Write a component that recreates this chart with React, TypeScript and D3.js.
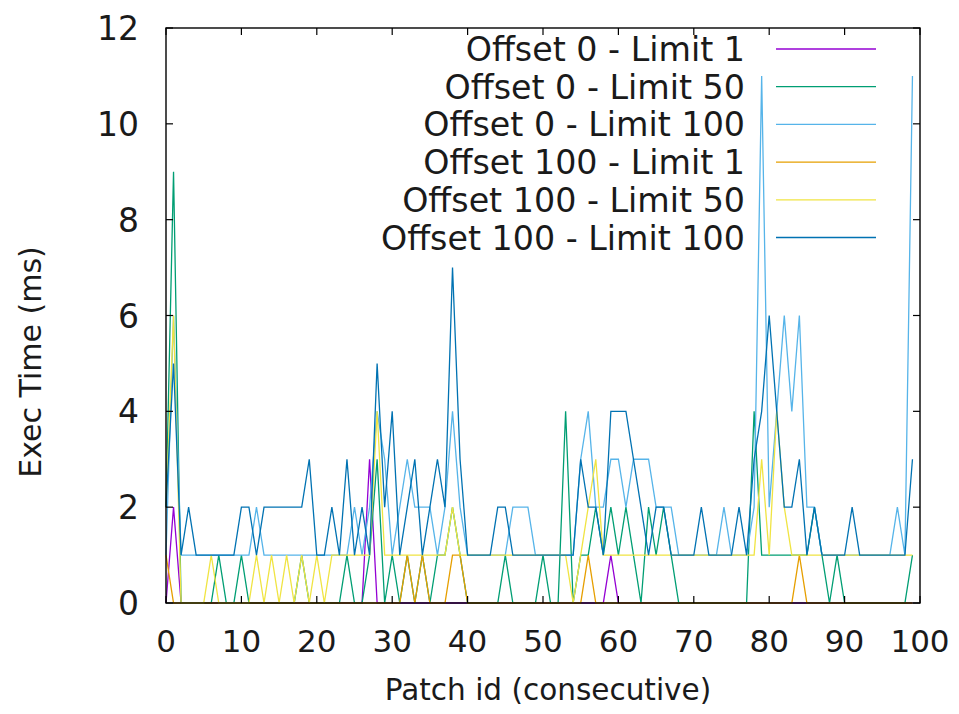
import React from 'react';
import * as d3 from 'd3';

// patch ids 0..99 (consecutive)
const patchIds = d3.range(0, 100);

const seriesNames = [
  'Offset 0 - Limit 1',
  'Offset 0 - Limit 50',
  'Offset 0 - Limit 100',
  'Offset 100 - Limit 1',
  'Offset 100 - Limit 50',
  'Offset 100 - Limit 100',
];

// gnuplot default line colours
const seriesColors = ['#9400d3', '#009e73', '#56b4e9', '#e69f00', '#f0e442', '#0072b2'];

const off0lim1 = [
  0, 2, 0, 0, 0, 0, 0, 0, 0, 0,
  0, 0, 0, 0, 0, 0, 0, 0, 0, 0,
  0, 0, 0, 0, 0, 0, 0, 3, 0, 0,
  0, 0, 0, 0, 0, 0, 0, 0, 0, 0,
  0, 0, 0, 0, 0, 0, 0, 0, 0, 0,
  0, 0, 0, 0, 0, 0, 0, 0, 0, 1,
  0, 0, 0, 0, 0, 0, 0, 0, 0, 0,
  0, 0, 0, 0, 0, 0, 0, 0, 0, 0,
  0, 0, 0, 0, 0, 0, 0, 0, 0, 0,
  0, 0, 0, 0, 0, 0, 0, 0, 0, 0,
];

const off0lim50 = [
  2, 9, 0, 0, 0, 0, 0, 1, 0, 0,
  1, 0, 0, 0, 0, 0, 0, 0, 1, 0,
  0, 0, 0, 0, 1, 0, 0, 1, 3, 0,
  1, 0, 1, 0, 1, 0, 1, 1, 2, 1,
  0, 0, 0, 0, 0, 1, 0, 0, 0, 0,
  1, 0, 0, 4, 0, 1, 1, 2, 1, 2,
  1, 2, 1, 0, 2, 1, 2, 1, 0, 0,
  0, 0, 0, 0, 0, 0, 0, 0, 4, 1,
  1, 1, 1, 1, 1, 1, 2, 1, 0, 1,
  0, 0, 0, 0, 0, 0, 0, 0, 0, 1,
];

const off0lim100 = [
  1, 6, 1, 1, 1, 1, 1, 1, 1, 1,
  1, 1, 2, 1, 1, 1, 1, 1, 1, 1,
  1, 1, 1, 1, 1, 2, 1, 2, 4, 3,
  1, 2, 3, 2, 2, 2, 1, 2, 4, 2,
  1, 1, 1, 1, 1, 1, 2, 2, 2, 1,
  1, 1, 1, 1, 1, 3, 4, 2, 2, 3,
  3, 2, 3, 3, 3, 2, 2, 2, 1, 1,
  1, 1, 1, 1, 2, 1, 1, 1, 2, 11,
  2, 4, 6, 4, 6, 2, 2, 1, 1, 1,
  1, 1, 1, 1, 1, 1, 1, 2, 1, 11,
];

const off100lim1 = [
  1, 0, 0, 0, 0, 0, 0, 0, 0, 0,
  0, 0, 0, 0, 0, 0, 0, 0, 0, 0,
  0, 0, 0, 0, 0, 0, 0, 0, 0, 0,
  0, 0, 1, 0, 1, 0, 0, 0, 1, 1,
  0, 0, 0, 0, 0, 0, 0, 0, 0, 0,
  0, 0, 0, 0, 0, 0, 1, 0, 0, 0,
  0, 0, 0, 0, 0, 0, 0, 0, 0, 0,
  0, 0, 0, 0, 0, 0, 0, 0, 0, 0,
  0, 0, 0, 0, 1, 0, 0, 0, 0, 0,
  0, 0, 0, 0, 0, 0, 0, 0, 0, 0,
];

const off100lim50 = [
  2, 6, 0, 0, 0, 0, 1, 0, 0, 0,
  0, 0, 1, 0, 1, 0, 1, 0, 1, 0,
  1, 0, 1, 1, 1, 1, 1, 1, 4, 1,
  1, 1, 1, 1, 1, 1, 1, 1, 2, 1,
  1, 1, 1, 1, 1, 1, 1, 1, 1, 1,
  1, 1, 1, 1, 0, 1, 2, 3, 1, 1,
  1, 1, 1, 1, 1, 1, 1, 1, 1, 1,
  1, 1, 1, 1, 1, 1, 1, 1, 1, 3,
  1, 4, 2, 1, 1, 1, 1, 1, 1, 1,
  1, 1, 1, 1, 1, 1, 1, 1, 1, 1,
];

const off100lim100 = [
  2, 5, 1, 2, 1, 1, 1, 1, 1, 1,
  2, 2, 1, 2, 2, 2, 2, 2, 2, 3,
  1, 1, 2, 1, 3, 1, 2, 1, 5, 2,
  4, 1, 2, 3, 1, 2, 3, 2, 7, 3,
  1, 1, 1, 1, 2, 2, 1, 1, 1, 1,
  1, 1, 1, 1, 1, 3, 2, 2, 1, 4,
  4, 4, 3, 2, 1, 2, 2, 1, 1, 1,
  1, 2, 1, 1, 1, 1, 2, 1, 3, 4,
  6, 4, 2, 2, 3, 1, 2, 1, 1, 1,
  1, 2, 1, 1, 1, 1, 1, 1, 1, 3,
];

const allSeries = [off0lim1, off0lim50, off0lim100, off100lim1, off100lim50, off100lim100];

const xTicks = [0, 10, 20, 30, 40, 50, 60, 70, 80, 90, 100];
const yTicks = [0, 2, 4, 6, 8, 10, 12];

const App = () => {
  const width = 959;
  const height = 714;
  const margin = { top: 28, right: 39, bottom: 111, left: 166 };
  const font = '"DejaVu Sans", Verdana, sans-serif';
  const textColor = '#1a1a1a';

  const x = d3.scaleLinear().domain([0, 100]).range([margin.left, width - margin.right]);
  const y = d3.scaleLinear().domain([0, 12]).range([height - margin.bottom, margin.top]);

  const line = d3.line<number>()
    .x((d, i) => x(patchIds[i]))
    .y((d) => y(d));

  const tickLen = 7;
  const x0 = x(0), x1 = x(100), y0 = y(0), y1 = y(12);

  // legend placement
  const legendTextX = 745;
  const legendLine = [776, 876];
  const legendTop = 49;
  const legendStep = 37.7;

  return (
    <svg
      width={width}
      height={height}
      style={{ position: 'absolute', left: 0, top: 0, background: '#fff' }}
      fontFamily={font}
    >
      <rect width={width} height={height} fill="#fff" />

      {/* series lines */}
      <g fill="none" strokeWidth={1.3} strokeLinejoin="miter">
        {allSeries.map((vals, k) => (
          <path key={k} d={line(vals) || ''} stroke={seriesColors[k]} />
        ))}
      </g>

      {/* ticks, mirrored like gnuplot */}
      <g stroke="#000" strokeWidth={1.2}>
        {xTicks.map((t) => (
          <g key={'xt' + t}>
            <line x1={x(t)} x2={x(t)} y1={y0} y2={y0 - tickLen} />
            <line x1={x(t)} x2={x(t)} y1={y1} y2={y1 + tickLen} />
          </g>
        ))}
        {yTicks.map((t) => (
          <g key={'yt' + t}>
            <line x1={x0} x2={x0 + tickLen} y1={y(t)} y2={y(t)} />
            <line x1={x1} x2={x1 - tickLen} y1={y(t)} y2={y(t)} />
          </g>
        ))}
      </g>

      {/* border */}
      <rect x={x0} y={y1} width={x1 - x0} height={y0 - y1} fill="none" stroke="#000" strokeWidth={1.4} />

      {/* tick labels */}
      <g fill={textColor}>
        {xTicks.map((t) => (
          <text key={'xl' + t} x={x(t)} y={y0 + 49} textAnchor="middle" fontSize={31}>{t}</text>
        ))}
        {yTicks.map((t) => (
          <text key={'yl' + t} x={139} y={y(t) + 12} textAnchor="end" fontSize={33}>{t}</text>
        ))}
      </g>

      {/* axis titles */}
      <text x={548} y={700} textAnchor="middle" fontSize={29.5} fill={textColor}>
        Patch id (consecutive)
      </text>
      <text
        transform="translate(41, 362) rotate(-90)"
        textAnchor="middle"
        fontSize={30}
        fill={textColor}
      >
        Exec Time (ms)
      </text>

      {/* legend */}
      <g fontSize={33.3} fill={textColor}>
        {seriesNames.map((name, k) => {
          const ly = legendTop + k * legendStep;
          return (
            <g key={name}>
              <text x={legendTextX} y={ly + 12} textAnchor="end">{name}</text>
              <line
                x1={legendLine[0]}
                x2={legendLine[1]}
                y1={ly}
                y2={ly}
                stroke={seriesColors[k]}
                strokeWidth={1.3}
              />
            </g>
          );
        })}
      </g>
    </svg>
  );
};

export default App;
